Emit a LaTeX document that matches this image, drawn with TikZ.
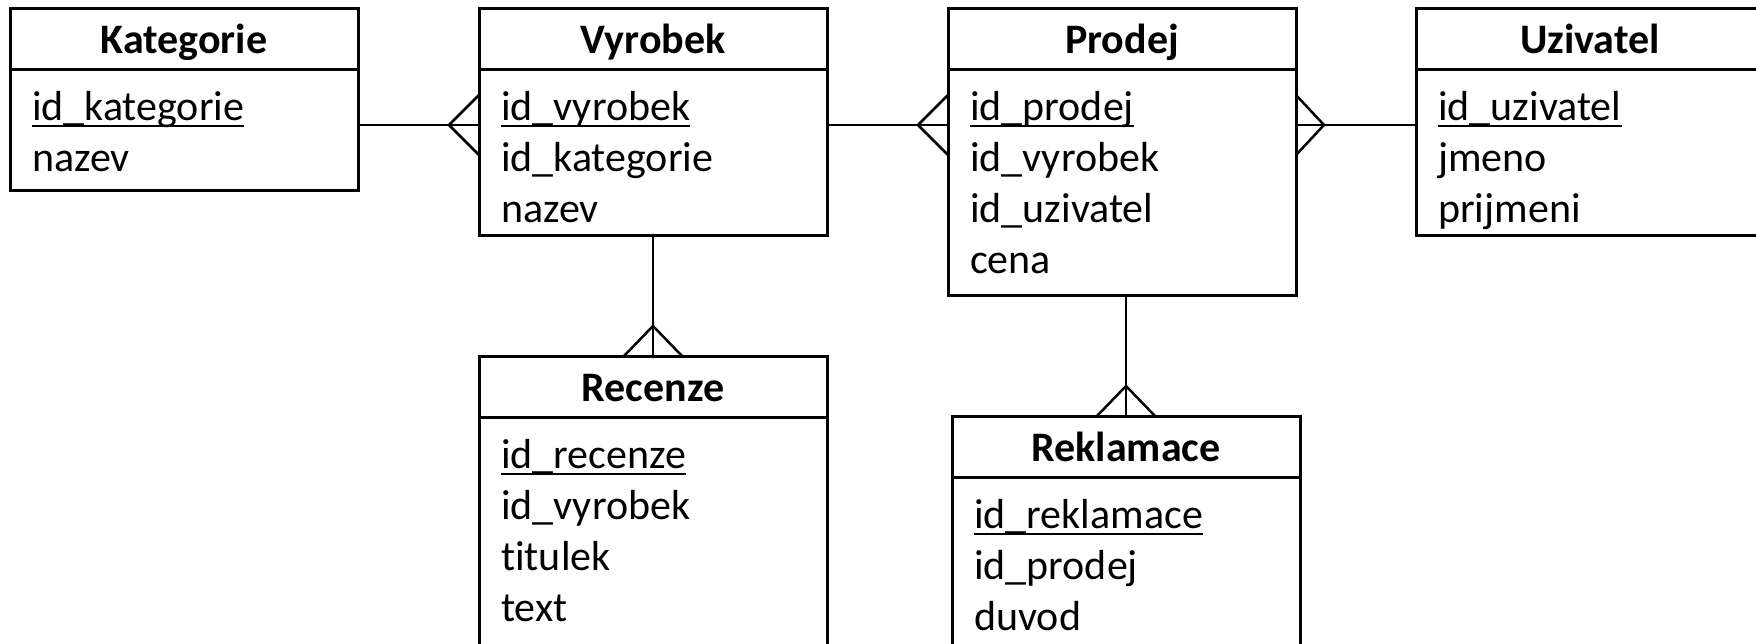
\documentclass[tikz,border=0pt]{standalone}
\usepackage{fontspec}
\setmainfont{Carlito}[Ligatures=NoCommon]
\usetikzlibrary{calc}
\tikzset{
  ent/.style={draw, rectangle, anchor=north west, minimum width=348pt, inner sep=0pt, outer sep=0pt, line width=3pt},
  hdr/.style={line width=3pt},
  ttl/.style={anchor=base, inner sep=0pt, font=\fontsize{42}{50}\selectfont\bfseries},
  att/.style={anchor=base west, inner sep=0pt, font=\fontsize{42}{50}\selectfont},
  ul/.style={line width=2pt},
  rel/.style={line width=2.5pt},
}
\newcommand{\erEntity}[7]{%
  \node[ent, minimum height=#4pt] (#1) at (#2,#3) {};
  \draw[hdr] ($(#1.north west)+(0,61)$) -- ($(#1.north east)+(0,61)$);
  \node[ttl] (#1-t) at ($(#1.north)+(0,45)$) {#5};
  \node[att] (#1-a1) at ($(#1.north west)+(22,112)$) {#6};
  \draw[ul] ($(#1-a1.base west)+(0,6)$) -- ($(#1-a1.base east)+(0,6)$);
  \foreach \t [count=\i from 2] in {#7} {
    \pgfmathsetmacro\yy{112+51*(\i-1)}
    \node[att] (#1-a\i) at ($(#1.north west)+(22,\yy)$) {\t};
  }%
}
\begin{document}
\begin{tikzpicture}[x=1pt,y=-1pt]
\clip (0,0) rectangle (1756,643);
\fill[white] (0,0) rectangle (1756,643);
\erEntity{kat}{10}{8}{182}{Kategorie}{id\_kategorie}{nazev}
\erEntity{vyr}{479}{8}{227}{Vyrobek}{id\_vyrobek}{id\_kategorie,nazev}
\erEntity{pro}{948}{8}{287}{Prodej}{id\_prodej}{id\_vyrobek,id\_uzivatel,cena}
\erEntity{uzi}{1416}{8}{227}{Uzivatel}{id\_uzivatel}{jmeno,prijmeni}
\erEntity{rec}{479}{356}{300}{Recenze}{id\_recenze}{id\_vyrobek,titulek,text}
\erEntity{rek}{952}{416}{240}{Reklamace}{id\_reklamace}{id\_prodej,duvod}
% Kategorie -- Vyrobek
\coordinate (kv) at ($(vyr.north west)+(0,117)$);
\draw[rel] (kv -| kat.east) -- (kv);
\draw[rel] ($(kv)+(0,-30)$) -- ($(kv)+(-30,0)$) -- ($(kv)+(0,30)$);
% Vyrobek -- Prodej
\coordinate (vp) at ($(pro.north west)+(0,117)$);
\draw[rel] (vp -| vyr.east) -- (vp);
\draw[rel] ($(vp)+(0,-30)$) -- ($(vp)+(-30,0)$) -- ($(vp)+(0,30)$);
% Prodej -- Uzivatel
\coordinate (pu) at ($(pro.north east)+(0,117)$);
\draw[rel] (pu) -- (pu -| uzi.west);
\draw[rel] ($(pu)+(0,-30)$) -- ($(pu)+(28,0)$) -- ($(pu)+(0,30)$);
% Vyrobek -- Recenze
\draw[rel] (vyr.south) -- (rec.north);
\draw[rel] ($(rec.north)+(-29,0)$) -- ($(rec.north)+(0,-30)$) -- ($(rec.north)+(29,0)$);
% Prodej -- Reklamace
\draw[rel] (rek.north |- pro.south) -- (rek.north);
\draw[rel] ($(rek.north)+(-29,0)$) -- ($(rek.north)+(0,-30)$) -- ($(rek.north)+(29,0)$);
\end{tikzpicture}
\end{document}
